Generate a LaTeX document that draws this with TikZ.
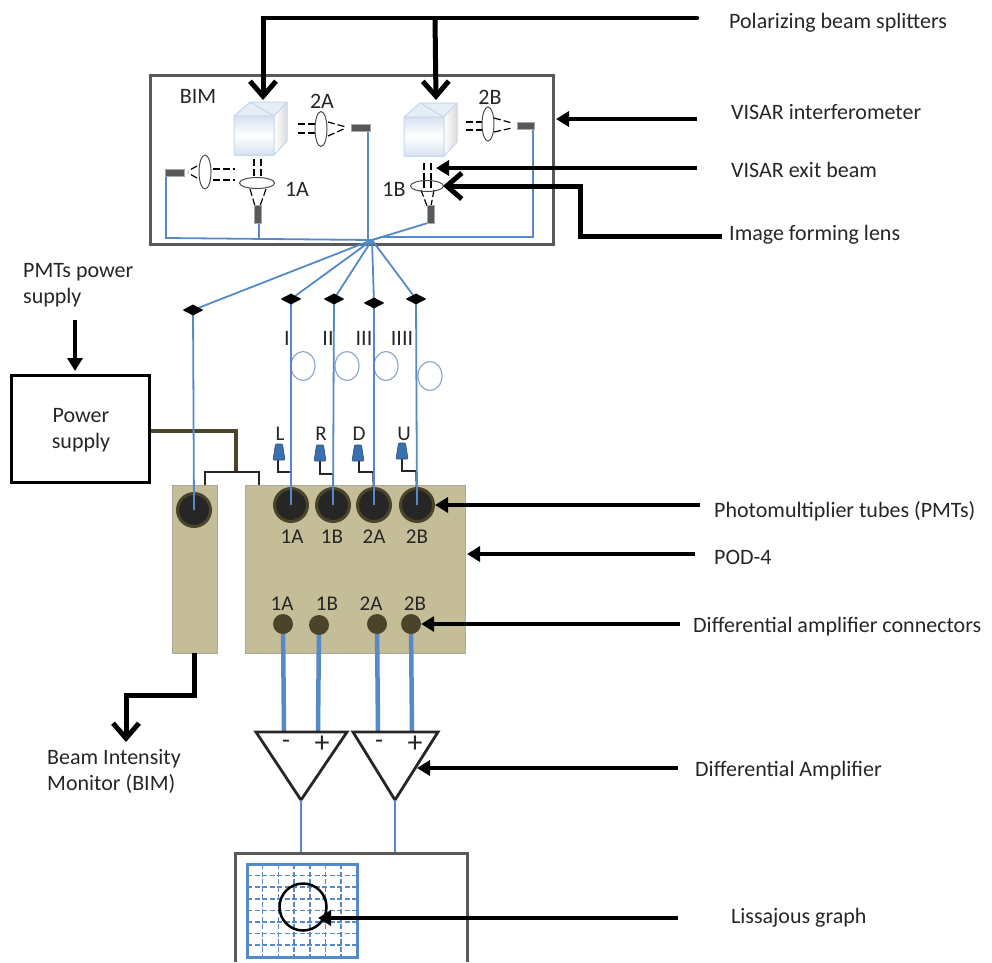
\documentclass[tikz,border=0pt]{standalone}
\usepackage{fontspec}
\setmainfont{Carlito}
\usetikzlibrary{arrows.meta,shapes.geometric}
\definecolor{fibre}{HTML}{5589C8}
\definecolor{podtan}{HTML}{C4BD97}
\definecolor{podline}{HTML}{A8A8A0}
\definecolor{olive}{HTML}{4A452A}
\definecolor{tube}{HTML}{262626}
\definecolor{frame}{HTML}{595959}
\definecolor{loopline}{HTML}{8FA8C8}
\definecolor{cubeline}{HTML}{C6D6EA}
\definecolor{plug}{HTML}{3A70B0}
\tikzset{
    lbl/.style={inner sep=0pt,font=\fontsize{22}{26}\selectfont,text=black!85,align=left},
    tag/.style={lbl,align=center,font=\fontsize{21}{24}\selectfont},
    frm/.style={draw=frame,line width=3pt},
    callout/.style={line width=4.5pt,-{Triangle[length=13pt,width=15pt]}},
    bigcallout/.style={line width=5pt,-{Straight Barb[length=15pt,width=26pt,line width=5pt]}},
    fibreline/.style={draw=fibre,line width=1.8pt},
    thickfibre/.style={draw=fibre,line width=4.5pt},
    beam/.style={line width=1.2pt,dash pattern=on 7pt off 3pt},
    lens/.style={ellipse,draw=black!70,line width=1pt,fill=white,inner sep=0pt},
    detector/.style={fill=gray!70!black,draw=gray!70,line width=.8pt},
    junction/.style={diamond,fill=black,inner sep=0pt,minimum width=21pt,minimum height=11pt},
    fibreloop/.style={ellipse,draw=loopline,line width=1.2pt,minimum width=24pt,minimum height=29pt,inner sep=0pt},
    pmt/.style={circle,fill=tube,draw=olive,line width=3pt,minimum size=33pt,inner sep=0pt},
    pin/.style={circle,fill=olive,minimum size=20pt,inner sep=0pt},
    podbox/.style={fill=podtan,draw=podline,line width=1pt},
    wire/.style={line width=1.6pt,black!85},
    amp/.style={line width=2.8pt,draw=black!85,line join=miter},
    gridline/.style={fibre,line width=1.5pt,dash pattern=on 5pt off 2.5pt}
}
\newcommand{\bscube}[2]{% front corner x, front top y
    \shade[left color=white,right color=black!14] (#1+40,#2) -- (#1+53,#2-14) -- (#1+53,#2+25) -- (#1+40,#2+39) -- cycle;
    \shade[top color=cubeline!70,bottom color=cubeline!70,middle color=white] (#1,#2) rectangle (#1+40,#2+39);
    \fill[cubeline!45] (#1,#2) -- (#1+16,#2-14) -- (#1+53,#2-14) -- (#1+40,#2) -- cycle;
    \draw[cubeline,line width=1pt] (#1,#2) rectangle (#1+40,#2+39) (#1,#2) -- (#1+16,#2-14) -- (#1+53,#2-14) -- (#1+53,#2+25) -- (#1+40,#2+39) (#1+40,#2) -- (#1+53,#2-14) (#1+16,#2-14) -- (#1+40,#2);
}
\newcommand{\plugicon}[2]{% centre x, centre y
    \fill[plug,draw=plug!70!black,line width=.6pt,rounded corners=1pt] (#1-3.5,#2-8) -- (#1+3.5,#2-8) -- (#1+6,#2+8) -- (#1-6,#2+8) -- cycle;
}
\begin{document}
\begin{tikzpicture}[x=1pt,y=-1pt]
    \useasboundingbox (0,0) rectangle (992,962);

    % interferometer box
    \draw[frm] (150,75) rectangle (553,244);
    \bscube{234}{116}
    \bscube{404}{117}
    \node[lbl] (bimName) at (198,96) {BIM};
    \node[lbl] (nameTwoA) at (322,101) {2A};
    \node[lbl] (nameOneA) at (297,189) {1A};
    \node[lbl] (nameOneB) at (394,189) {1B};
    \node[lbl] (nameTwoB) at (490,97) {2B};

    % beams and lenses
    \draw[beam] (298,124) -- (319,124) (298,133) -- (319,133);
    \draw[beam] (328,122) -- (346,127) (328,136) -- (346,128);
    \draw[beam] (213,169) -- (235,169) (213,180) -- (235,180);
    \draw[beam] (197,166) -- (188,171) (197,178) -- (188,173);
    \draw[beam] (254,159) -- (254,180) (261,159) -- (261,180);
    \draw[beam] (250,189) -- (255,206) (266,189) -- (260,206);
    \draw[beam] (466,122) -- (487,122) (466,130) -- (487,130);
    \draw[beam] (494,118) -- (512,123) (494,132) -- (512,128);
    \draw[beam] (424,163) -- (424,182) (431,163) -- (431,182);
    \draw[beam] (421,190) -- (427,206) (434,190) -- (431,206);
    \node[lens,minimum width=12pt,minimum height=35pt] (lensTwoA) at (321,129) {};
    \node[lens,minimum width=12pt,minimum height=34pt] (lensLeft) at (205,172) {};
    \node[lens,minimum width=35pt,minimum height=11pt] (lensOneA) at (257,183) {};
    \node[lens,minimum width=12pt,minimum height=34pt] (lensTwoB) at (488,124) {};
    \node[lens,minimum width=33pt,minimum height=11pt,fill=none] (lensOneB) at (427,186) {};
    \draw[beam] (424,181) -- (424,190) (431,181) -- (431,190);

    % detectors and their fibres
    \draw[fibreline] (368,127) -- (368,239);
    \draw[fibreline] (166,172) -- (166,238) -- (372,240);
    \draw[fibreline] (259,222) -- (259,238);
    \draw[fibreline] (533,125) -- (533,237) -- (382,237) -- (372,240);
    \draw[fibreline] (431,222) -- (372,240);
    \draw[detector] (351,124) rectangle (370,131);
    \draw[detector] (165,169) rectangle (184,176);
    \draw[detector] (517,122) rectangle (534,129);
    \draw[detector] (254,205) rectangle (261,223);
    \draw[detector] (427,205) rectangle (434,223);
    \coordinate (hub) at (372,240);

    % fibres down to the tubes
    \coordinate (jBim) at (193,310);
    \coordinate (jOne) at (291,299);
    \coordinate (jTwo) at (334,299);
    \coordinate (jThree) at (374,303);
    \coordinate (jFour) at (416,299);
    \foreach \j in {jBim,jOne,jTwo,jThree,jFour}
        \draw[fibreline] (hub) -- (\j);
    \node[lbl] (tallyOne) at (287,338) {I};
    \node[lbl] (tallyTwo) at (328,338) {II};
    \node[lbl] (tallyThree) at (364,338) {III};
    \node[lbl] (tallyFour) at (402,338) {IIII};
    \node[fibreloop] (loopOne) at (303,366) {};
    \node[fibreloop] (loopTwo) at (347,366) {};
    \node[fibreloop] (loopThree) at (386,366) {};
    \node[fibreloop] (loopFour) at (430,376) {};

    % power supply
    \node[draw=black,line width=2.5pt,minimum width=138pt,minimum height=107pt,inner sep=0pt] (power) at (80.5,429) {};
    \node[lbl,align=center] (powerName) at (81,430) {Power\\supply};
    \node[lbl,anchor=west] (pmtPower) at (23,285) {PMTs power\\supply};
    \coordinate (powerStart) at (75,320);
    \coordinate (powerEnd) at (75,371);
    \draw[callout] (powerStart) -- (powerEnd);
    \draw[line width=3.5pt,olive] (power.east |- 0,431) -- (236,431) -- (236,471);
    \draw[wire] (205,485) -- (205,472) -- (259,472) -- (259,485);

    % tube boxes
    \draw[podbox] (172,485) rectangle (217,653);
    \draw[podbox] (245,485) rectangle (465,653);
    \node[pmt] (pmtBim) at (194,510) {};
    \node[pmt] (pmtOneA) at (291,505) {};
    \node[pmt] (pmtOneB) at (333,505) {};
    \node[pmt] (pmtTwoA) at (374,505) {};
    \node[pmt] (pmtTwoB) at (417,505) {};
    \draw[wire] (278,458) -- (278,472) -- (291,472) -- (pmtOneA.center);
    \draw[wire] (320,459) -- (320,474) -- (333,474) -- (pmtOneB.center);
    \draw[wire] (359,460) -- (359,472) -- (373,472) -- (pmtTwoA.center);
    \draw[wire] (402,458) -- (402,471) -- (416,471) -- (pmtTwoB.center);
    \draw[fibreline] (jBim) -- (pmtBim.center);
    \draw[fibreline] (jOne) -- (pmtOneA.center);
    \draw[fibreline] (jTwo) -- (pmtOneB.center);
    \draw[fibreline] (jThree) -- (pmtTwoA.center);
    \draw[fibreline] (jFour) -- (pmtTwoB.center);
    \node[junction] (markBim) at (jBim) {};
    \node[junction] (markOne) at (jOne) {};
    \node[junction] (markTwo) at (jTwo) {};
    \node[junction] (markThree) at (jThree) {};
    \node[junction] (markFour) at (jFour) {};
    \plugicon{279}{452}
    \plugicon{320}{453}
    \plugicon{358}{453}
    \plugicon{402}{451}
    \node[tag] (capL) at (280,434) {L};
    \node[tag] (capR) at (321,434) {R};
    \node[tag] (capD) at (359,434) {D};
    \node[tag] (capU) at (404,434) {U};
    \node[tag] (tubeOneA) at (292,537) {1A};
    \node[tag] (tubeOneB) at (332,537) {1B};
    \node[tag] (tubeTwoA) at (374,537) {2A};
    \node[tag] (tubeTwoB) at (417,537) {2B};
    \node[tag] (pinNameOneA) at (282,604) {1A};
    \node[tag] (pinNameOneB) at (327,604) {1B};
    \node[tag] (pinNameTwoA) at (371,604) {2A};
    \node[tag] (pinNameTwoB) at (415,604) {2B};
    \node[pin] (pinOneA) at (283,624) {};
    \node[pin] (pinOneB) at (319,625) {};
    \node[pin] (pinTwoA) at (377,624) {};
    \node[pin] (pinTwoB) at (411,624) {};

    % amplifiers
    \coordinate (ampOneIn) at (284,732);
    \coordinate (ampTwoIn) at (318,732);
    \coordinate (ampThreeIn) at (378,732);
    \coordinate (ampFourIn) at (412,732);
    \draw[thickfibre] (pinOneA) -- (ampOneIn);
    \draw[thickfibre] (pinOneB) -- (ampTwoIn);
    \draw[thickfibre] (pinTwoA) -- (ampThreeIn);
    \draw[thickfibre] (pinTwoB) -- (ampFourIn);
    \coordinate (ampOneTip) at (301,800);
    \coordinate (ampTwoTip) at (395,800);
    \draw[amp] (256,732) -- (347,732) -- (ampOneTip) -- cycle;
    \draw[amp] (353,732) -- (438,732) -- (ampTwoTip) -- cycle;
    \node[lbl,font=\fontsize{26}{26}\selectfont] (minusOne) at (286,744) {-};
    \node[lbl,font=\fontsize{30}{30}\selectfont] (plusOne) at (322,744) {+};
    \node[lbl,font=\fontsize{26}{26}\selectfont] (minusTwo) at (379,744) {-};
    \node[lbl,font=\fontsize{30}{30}\selectfont] (plusTwo) at (415,744) {+};

    % scope
    \coordinate (scopeOne) at (301,853);
    \coordinate (scopeTwo) at (395,853);
    \draw[fibreline,line width=1.4pt] (ampOneTip) -- (scopeOne);
    \draw[fibreline,line width=1.4pt] (ampTwoTip) -- (scopeTwo);
    \draw[frm] (235,962) -- (235,853) -- (467,853) -- (467,962);
    \foreach \i in {1,...,6}
        \draw[gridline] ({247+\i*15.7},864) -- ({247+\i*15.7},957);
    \foreach \i in {1,...,7}
        \draw[gridline] (247,{864+\i*11.6}) -- (357,{864+\i*11.6});
    \draw[fibre,line width=3pt] (247,864) rectangle (357,957);
    \node[circle,draw=black,line width=2.5pt,minimum size=47pt,inner sep=0pt] (lissajous) at (303,907) {};

    % callouts
    \node[lbl,anchor=west] (pbsName) at (729,23) {Polarizing beam splitters};
    \node[lbl,anchor=west] (visarName) at (731,112) {VISAR interferometer};
    \node[lbl,anchor=west] (exitName) at (731,170) {VISAR exit beam};
    \node[lbl,anchor=west] (imageName) at (729,235) {Image forming lens};
    \node[lbl,anchor=west] (pmtName) at (714,511) {Photomultiplier tubes (PMTs)};
    \node[lbl,anchor=west] (podName) at (714,557) {POD-4};
    \node[lbl,anchor=west] (connName) at (693,627) {Differential amplifier connectors};
    \node[lbl,anchor=west] (ampName) at (695,771) {Differential Amplifier};
    \node[lbl,anchor=west] (graphName) at (731,918) {Lissajous graph};
    \node[lbl,anchor=west] (bimLong) at (47,771) {Beam Intensity\\Monitor (BIM)};

    \coordinate (pbsStart) at (697,18);
    \coordinate (pbsKnee) at (435,18);
    \draw[line width=4.5pt,line cap=round] (pbsStart) -- (263,18);
    \draw[bigcallout] (263,16) -- (263,100);
    \draw[bigcallout] (pbsKnee) -- (436,100);
    \coordinate (visarStart) at (697,119);
    \draw[callout] (visarStart) -- (556,119);
    \coordinate (exitStart) at (697,168);
    \draw[callout] (exitStart) -- (436,168);
    \coordinate (imageStart) at (722,236);
    \draw[bigcallout] (imageStart) -- (580,236) -- (580,186) -- (443,186);
    \coordinate (pmtStart) at (700,505);
    \draw[callout] (pmtStart) -- (pmtTwoB.east);
    \coordinate (podStart) at (695,554);
    \draw[callout] (podStart) -- (467,554);
    \coordinate (connStart) at (680,624);
    \draw[callout] (connStart) -- (pinTwoB.east);
    \coordinate (ampStart) at (678,768);
    \draw[callout] (ampStart) -- (417,768);
    \coordinate (graphStart) at (678,918);
    \draw[callout] (graphStart) -- (318,918);
    \coordinate (bimKnee) at (194,653);
    \draw[bigcallout] (bimKnee) -- (194,695) -- (126,695) -- (126,742);
\end{tikzpicture}
\end{document}
